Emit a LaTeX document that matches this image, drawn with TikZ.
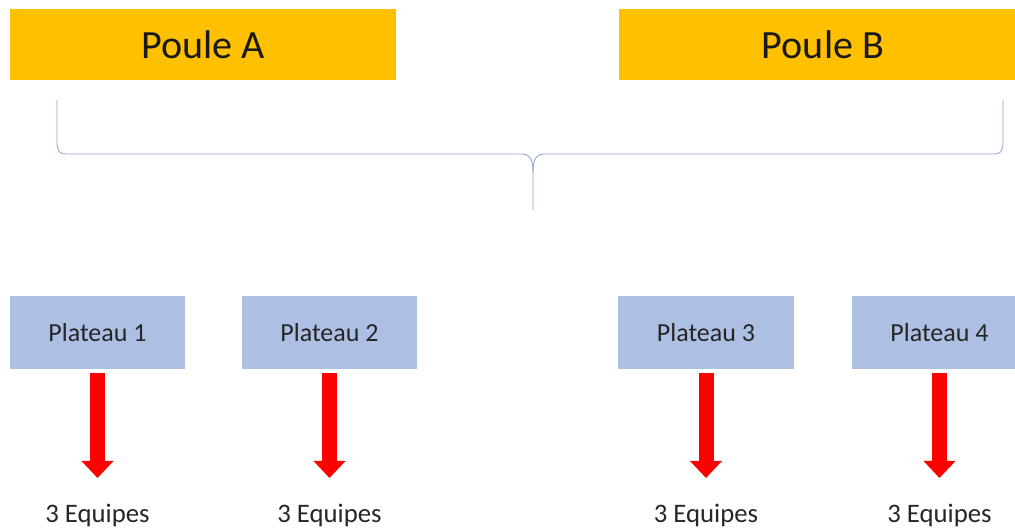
\documentclass[tikz,border=0pt]{standalone}
\usepackage{fontspec}
\setmainfont{Carlito}
\usepackage{tikz}
\tikzset{>=latex}
\usetikzlibrary{arrows.meta}

\definecolor{or}{HTML}{FFC000}
\definecolor{bleuclair}{RGB}{174,191,228}
\definecolor{accolade}{RGB}{143,163,208}

\tikzset{
    poule/.style={fill=or, minimum height=1.775cm, inner sep=0pt,
        font=\fontsize{28.5}{34}\selectfont, text=black!90},
    plateau/.style={fill=bleuclair, minimum width=4.375cm, minimum height=1.825cm, inner sep=0pt,
        font=\fontsize{18.5}{22}\selectfont, text=black!85},
    equipes/.style={anchor=north, inner sep=0pt, font=\fontsize{19}{23}\selectfont, text=black!85},
    fleche/.style={red, line width=0.375cm, shorten <=0.1cm, shorten >=0.65cm,
        -{Triangle[width=0.775cm, length=0.425cm]}}
}

\begin{document}
\begin{tikzpicture}[x=0.025cm, y=-0.025cm]

    \useasboundingbox (0,0) rectangle (1015,530);

    \node[poule, minimum width=9.65cm] (pouleA) at (203,44.5) {Poule A};
    \node[poule, minimum width=10.2cm] (pouleB) at (823,44.5) {Poule B};

    \draw[accolade, line width=0.6pt] (57,100) -- (57,143) .. controls (57.5,152) and (60,154) .. (66,154)
        -- (522,154) .. controls (529,154) and (533,158) .. (533,172) -- (533,210);
    \draw[accolade, line width=0.6pt] (533,172) .. controls (533,158) and (537,154) .. (544,154)
        -- (994,154) .. controls (1000,154) and (1002.5,152) .. (1003,143) -- (1003,100);

    \node[plateau] (p1) at (97.5,332.5) {Plateau 1};
    \node[plateau] (p2) at (329.5,332.5) {Plateau 2};
    \node[plateau] (p3) at (706,332.5) {Plateau 3};
    \node[plateau] (p4) at (939.5,332.5) {Plateau 4};

    \foreach \i in {1,2,3,4} {
        \node[equipes] (e\i) at (p\i |- 0,504) {3 Equipes};
        \draw[fleche] (p\i.south) -- (e\i.north);
    }

\end{tikzpicture}
\end{document}
